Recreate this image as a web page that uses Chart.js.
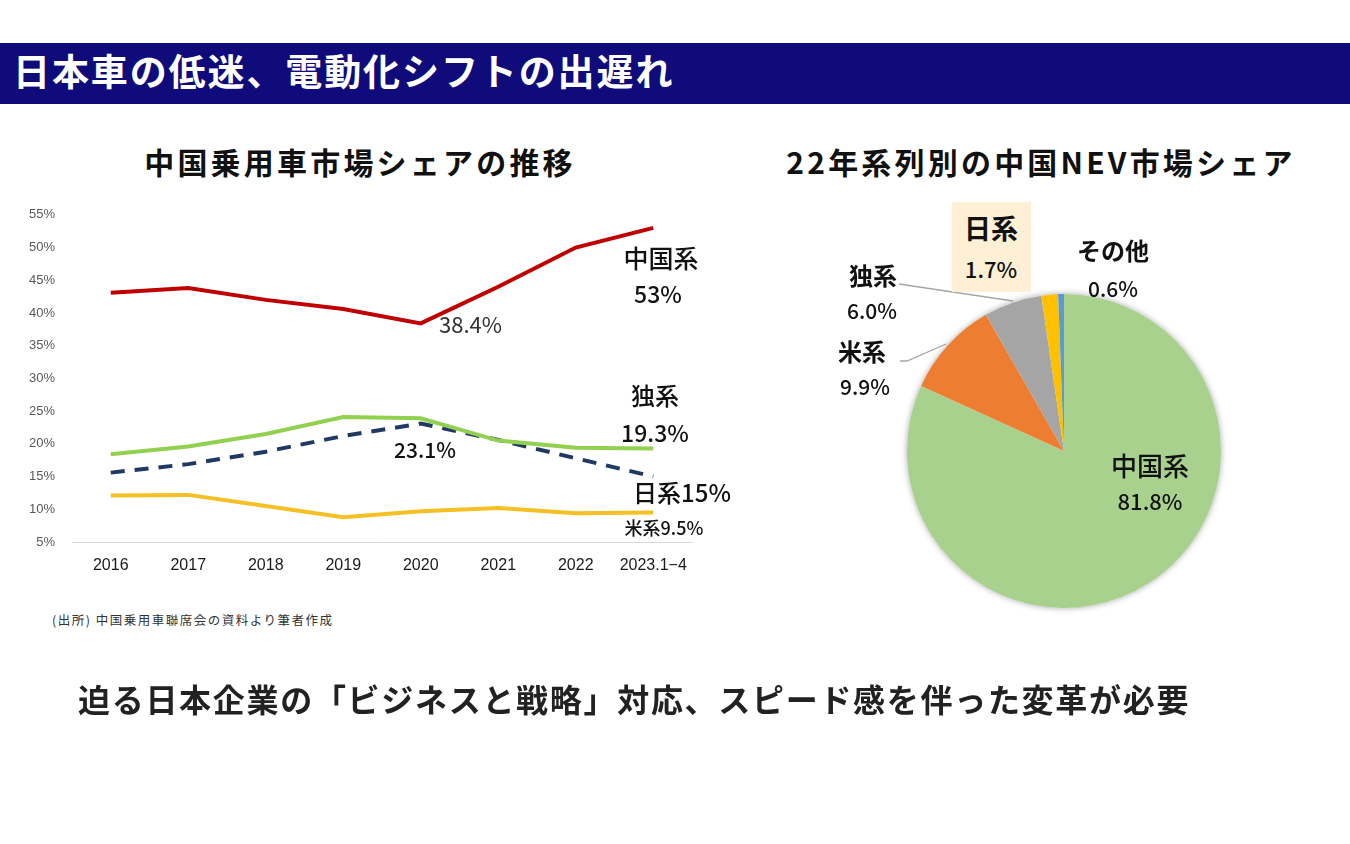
<!DOCTYPE html>
<html><head><meta charset="utf-8">
<script src="https://cdn.jsdelivr.net/npm/chart.js@4.4.1/dist/chart.umd.min.js"></script>
<style>
body{margin:0;width:1350px;height:844px;background:#fff;position:relative;overflow:hidden;font-family:"Noto Sans CJK JP",sans-serif;color:#111;}
.abs{position:absolute;white-space:nowrap;line-height:1;}
.c{transform:translate(-50%,-50%);}
.l{transform:translate(0,-50%);}
#bar{left:0;top:43px;width:1350px;height:61px;background:#0f0b7b;}
#title{left:13px;top:70px;color:#fff;font-size:37px;font-weight:700;letter-spacing:1.9px;}
.sub{font-size:30px;font-weight:700;letter-spacing:3.2px;color:#111;}
.ann{font-weight:500;color:#111;}
</style>
</head><body>
<div id="bar" class="abs"></div>
<div id="title" class="abs l">日本車の低迷、電動化シフトの出遅れ</div>
<div class="abs c sub" style="left:360px;top:161px;">中国乗用車市場シェアの推移</div>
<div class="abs c sub" style="left:1041px;top:161px;">22年系列別の中国NEV市場シェア</div>

<div class="abs" style="left:0;top:190px;width:720px;height:400px;"><canvas id="line" width="720" height="400"></canvas></div>

<div class="abs c ann" style="left:661px;top:257px;font-size:25px;">中国系</div>
<div class="abs c ann" style="left:658px;top:293px;font-size:23px;">53%</div>
<div class="abs l" style="left:439px;top:323px;font-size:22px;color:#333;">38.4%</div>
<div class="abs c ann" style="left:655px;top:395px;font-size:24px;">独系</div>
<div class="abs c ann" style="left:655px;top:432px;font-size:23px;">19.3%</div>
<div class="abs c ann" style="left:425px;top:449px;font-size:21px;">23.1%</div>
<div class="abs c ann" style="left:682px;top:492px;font-size:24px;">日系15%</div>
<div class="abs c ann" style="left:664px;top:527px;font-size:18px;">米系9.5%</div>

<div class="abs l" style="left:52px;top:620px;font-size:12.5px;letter-spacing:1.5px;color:#333;">(出所) 中国乗用車聯席会の資料より筆者作成</div>

<div class="abs" style="left:894px;top:281px;width:340px;height:340px;"><canvas id="pie" width="340" height="340"></canvas></div>

<svg class="abs" style="left:0;top:0;" width="1350" height="844">
  <polyline points="899,284 1013,301" fill="none" stroke="#a6a6a6" stroke-width="1.3"/>
  <polyline points="900,361 907,361 946,344" fill="none" stroke="#a6a6a6" stroke-width="1.3"/>
</svg>

<div class="abs" style="left:952px;top:202px;width:79px;height:90px;background:#fdf0d4;"></div>
<div class="abs c" style="left:991px;top:227px;font-size:27px;font-weight:700;">日系</div>
<div class="abs c ann" style="left:991px;top:268px;font-size:22px;">1.7%</div>
<div class="abs c" style="left:873px;top:275px;font-size:24px;font-weight:700;">独系</div>
<div class="abs c ann" style="left:872px;top:310px;font-size:21px;">6.0%</div>
<div class="abs c" style="left:862px;top:351px;font-size:24px;font-weight:700;">米系</div>
<div class="abs c ann" style="left:865px;top:386px;font-size:21px;">9.9%</div>
<div class="abs c" style="left:1113px;top:250px;font-size:24px;font-weight:700;">その他</div>
<div class="abs c ann" style="left:1113px;top:288px;font-size:21px;">0.6%</div>
<div class="abs c ann" style="left:1150px;top:465px;font-size:26px;">中国系</div>
<div class="abs c ann" style="left:1150px;top:500px;font-size:22px;">81.8%</div>

<div class="abs l" style="left:78px;top:698px;font-size:32px;font-weight:700;letter-spacing:1.7px;color:#222;">迫る日本企業の「ビジネスと戦略」対応、スピード感を伴った変革が必要</div>

<script>
const years = ['2016','2017','2018','2019','2020','2021','2022','2023.1\u22124'];
const chinaShare = [43.1, 43.8, 42.0, 40.6, 38.4, 44.0, 50.0, 53.0];
const germanShare = [18.4, 19.6, 21.5, 24.1, 23.9, 20.5, 19.4, 19.3];
const japanShare = [15.6, 16.9, 18.8, 21.2, 23.1, 20.6, 17.8, 15.0];
const usShare = [12.1, 12.2, 10.5, 8.8, 9.7, 10.2, 9.4, 9.5];

const nevLabels = ['中国系', '米系', '独系', '日系', 'その他'];
const nevShare = [81.8, 9.9, 6.0, 1.7, 0.6];

new Chart(document.getElementById('line'), {
  type: 'line',
  data: {
    labels: years,
    datasets: [
      {label:'中国系', data: chinaShare, borderColor:'#c00000', borderWidth:4, pointRadius:0, tension:0},
      {label:'独系', data: germanShare, borderColor:'#92d050', borderWidth:4, pointRadius:0, tension:0},
      {label:'日系', data: japanShare, borderColor:'#1f3864', borderWidth:4, borderDash:[14,10], pointRadius:0, tension:0},
      {label:'米系', data: usShare, borderColor:'#f5c024', borderWidth:4, pointRadius:0, tension:0}
    ]
  },
  options: {
    responsive:false, animation:false, devicePixelRatio:1,
    layout:{padding:{top:22,right:28,left:0,bottom:0}},
    plugins:{legend:{display:false}, tooltip:{enabled:false}},
    scales:{
      x:{offset:true, grid:{display:false, drawTicks:false}, border:{display:true, color:'#d9d9d9', width:1},
         ticks:{padding:14, color:'#1a1a1a', font:{family:'Liberation Sans', size:16}, maxRotation:0, autoSkip:false},
         afterFit(s){ s.height = 48; }},
      y:{min:5, max:55, grid:{display:false, drawTicks:false}, border:{display:false},
         ticks:{stepSize:5, padding:17, color:'#595959', font:{family:'Liberation Sans', size:13}, callback:v=>v+'%'},
         afterFit(s){ s.width = 72; }}
    }
  }
});

const pieShadow = {
  id:'pieShadow',
  beforeDatasetsDraw(chart){
    const arc = chart.getDatasetMeta(0).data[0];
    if(!arc) return;
    const ctx = chart.ctx;
    ctx.save();
    ctx.shadowColor = 'rgba(0,0,0,0.35)';
    ctx.shadowBlur = 6;
    ctx.beginPath();
    ctx.arc(arc.x, arc.y, arc.outerRadius, 0, Math.PI*2);
    ctx.fillStyle = '#fff';
    ctx.fill();
    ctx.restore();
  }
};

new Chart(document.getElementById('pie'), {
  type: 'pie',
  data: {
    labels: nevLabels,
    datasets: [{data: nevShare, backgroundColor:['#a9d18e','#ed7d31','#a5a5a5','#ffc000','#5b9bd5'], borderWidth:0}]
  },
  options: {
    responsive:false, animation:false, devicePixelRatio:1,
    layout:{padding:13},
    plugins:{legend:{display:false}, tooltip:{enabled:false}}
  },
  plugins:[pieShadow]
});
</script>
</body></html>
